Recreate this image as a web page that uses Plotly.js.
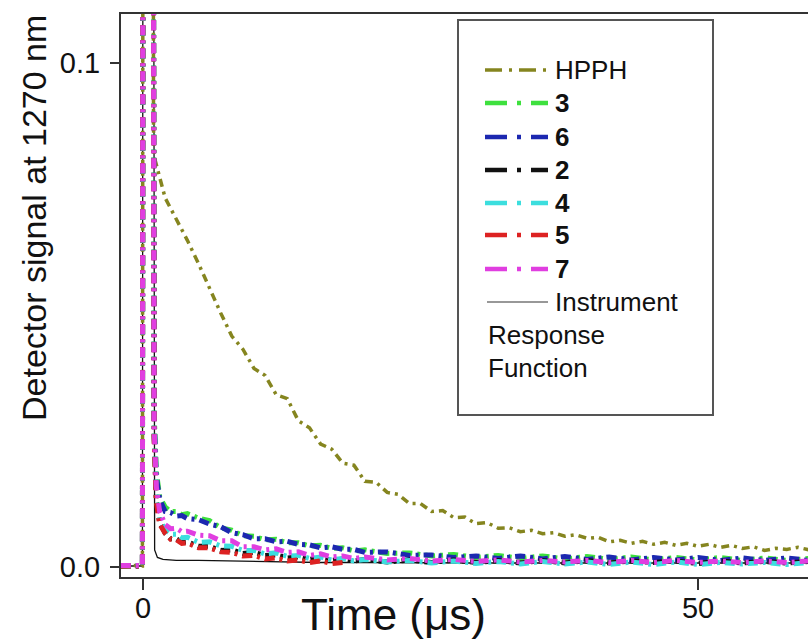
<!DOCTYPE html>
<html>
<head>
<meta charset="utf-8">
<script src="https://cdn.plot.ly/plotly-3.0.1.min.js"></script>
<style>html,body{margin:0;padding:0;background:#fff;}#chart{width:808px;height:642px;}</style>
</head>
<body>
<div id="chart"></div>
<script>
// ---- data ----
const timeSamples = [-2,-1.5,-1,-0.5,-0.05,0.05,0.4,0.85,1.0,1.2,1.5,2,2.5,3,3.5,4,5,6,7,8,9,10,11,12,13,14,15,16,17,18,19,20,22,24,26,28,30,32,34,36,38,40,42,44,46,48,50,52,54,56,58,60];
const timeHPPH = [-2,-1,-0.05,0.05,0.4,0.85,0.95,1,2,3,4,5,6,7,8,9,10,11,12,13,14,15,16,17,18,19,20,21,22,23,24,25,26,27,28,29,30,31,32,33,34,35,36,37,38,39,40,41,42,43,44,45,46,47,48,49,50,51,52,53,54,55,56,57,58,59,60];
const timeIRF = [-2,-0.05,0.05,0.85,1.05,1.3,1.8,2.5,3,5,8,12,16,20,25,30,40,50,60];

const sigHPPH = [0.0002,0.0003,0.0002,0.3,0.3,0.3,0.087,
  0.0815,0.0732,0.0690,0.0648,0.0602,0.0552,0.0504,0.0458,0.0432,0.0394,
  0.0380,0.0342,0.0334,0.0290,0.0276,0.0244,0.0234,0.0206,0.0202,0.0170,
  0.0168,0.0148,0.0144,0.0126,0.0126,0.0110,0.0112,0.0098,0.0099,0.0086,
  0.0088,0.0077,0.0078,0.0070,0.0073,0.0066,0.0068,0.0061,0.0064,0.0057,
  0.0059,0.0050,0.0053,0.0047,0.0051,0.0045,0.0049,0.0043,0.0047,0.0041,
  0.0045,0.0039,0.0043,0.0037,0.0040,0.0033,0.0037,0.0035,0.0039,0.0034];
const sig3 = [0.0002,0.0003,0.0002,0.0003,0.0002, 0.3,0.3,0.3, 0.031,0.019,0.014,
  0.0119,0.0110,0.0110,0.0104,0.0106,
  0.0097,0.0092,0.0078,0.0073,0.0062,0.0061,0.0054,0.0055,0.0048,0.0048,0.0042,0.0043,0.0037,0.0038,0.0032,0.0034,
  0.0027,0.0028,0.0022,0.0025,0.0019,0.0023,0.0017,0.0022,0.0016,0.0021,0.0015,0.0020,0.0014,0.0019,0.0014,0.0019,0.0013,0.0018,0.0013,0.0017];
const sig6 = [0.0003,0.0002,0.0003,0.0002,0.0003, 0.3,0.3,0.3, 0.030,0.018,0.0135,
  0.0110,0.0108,0.0101,0.0102,0.0096,
  0.0094,0.0085,0.0080,0.0068,0.0064,0.0056,0.0056,0.0050,0.0051,0.0045,0.0044,0.0038,0.0040,0.0035,0.0035,0.0029,
  0.0030,0.0023,0.0024,0.0019,0.0022,0.0017,0.0022,0.0016,0.0021,0.0015,0.0020,0.0014,0.0019,0.0014,0.0019,0.0013,0.0018,0.0013,0.0018,0.0013];
const sig2 = [0.0002,0.0002,0.0003,0.0002,0.0002, 0.3,0.3,0.3, 0.026,0.013,0.009,
  0.0067,0.0056,0.0056,0.0049,0.0050,
  0.0041,0.0041,0.0033,0.0034,0.0027,0.0029,0.0023,0.0024,0.0018,0.0020,0.0015,0.0018,0.0013,0.0016,0.0012,0.0015,
  0.0010,0.0014,0.0009,0.0014,0.0009,0.0013,0.0008,0.0013,0.0008,0.0013,0.0008,0.0012,0.0009,0.0012,0.0007,0.0012,0.0008,0.0011,0.0008,0.0011];
const sig4 = [0.0003,0.0002,0.0002,0.0003,0.0002, 0.3,0.3,0.3, 0.027,0.015,0.0095,
  0.0074,0.0065,0.0065,0.0058,0.0059,
  0.0049,0.0050,0.0042,0.0041,0.0033,0.0033,0.0026,0.0028,0.0021,0.0023,0.0017,0.0020,0.0014,0.0017,0.0012,0.0015,
  0.0010,0.0013,0.0008,0.0012,0.0007,0.0011,0.0006,0.0011,0.0006,0.0010,0.0005,0.0010,0.0005,0.0010,0.0005,0.0009,0.0006,0.0009,0.0005,0.0009];
const sig5 = [0.0002,0.0003,0.0002,0.0002,0.0003, 0.3,0.3,0.3, 0.026,0.013,0.0085,
  0.0067,0.0055,0.0054,0.0047,0.0048,
  0.0038,0.0038,0.0030,0.0029,0.0022,0.0023,0.0016,0.0018,0.0012,0.0014,0.0009,0.0012,0.0007,0.0009];
const sig7 = [0.0003,0.0003,0.0002,0.0003,0.0003, 0.3,0.3,0.3, 0.028,0.016,0.011,
  0.0084,0.0076,0.0077,0.0070,0.0071,
  0.0063,0.0062,0.0052,0.0052,0.0040,0.0040,0.0034,0.0036,0.0029,0.0030,0.0023,0.0026,0.0020,0.0022,0.0017,0.0020,
  0.0014,0.0017,0.0012,0.0015,0.0011,0.0014,0.0010,0.0013,0.0010,0.0013,0.0009,0.0013,0.0009,0.0013,0.0009,0.0012,0.0009,0.0012,0.0009,0.0012];
const sigIRF = [0.0002,0.0002,0.3,0.3,0.0034,0.0019,0.0015,0.0014,0.0013,0.0013,0.0012,0.0010,0.0009,0.0009,0.0008,0.0008,0.0008,0.0008,0.0008];

const seriesNames = ['HPPH','3','6','2','4','5','7'];
const seriesColors = ['#85851f','#3ee03e','#1c28b0','#111111','#3cdede','#dd2222','#e03ee0'];
const xTickVals = [0, 50];
const xTickText = ['0', '50'];
const yTickVals = [0, 0.1];
const yTickText = ['0.0', '0.1'];

// ---- traces ----
const dashData = '10px,5px,3px,5px';
const sampleSig = [sig3, sig6, sig2, sig4, sig5, sig7];
const traces = [];
traces.push({x: timeIRF, y: sigIRF, mode: 'lines', line: {color: '#111', width: 1.3}, name: 'Instrument Response Function', showlegend: false});
traces.push({x: timeHPPH, y: sigHPPH, mode: 'lines', line: {color: seriesColors[0], width: 3.5, dash: '8px,5px,3px,5px'}, name: 'HPPH', showlegend: false});
sampleSig.forEach((s, i) => {
  traces.push({x: timeSamples.slice(0, s.length), y: s, mode: 'lines',
    line: {color: seriesColors[i + 1], width: 5, dash: dashData}, name: seriesNames[i + 1], showlegend: false});
});

// ---- pixel helpers for legend decoration ----
const L = 121, R = 808, T = 14, B = 577;
const px = x => (x - L) / (R - L);
const py = y => (B - y) / (B - T);
const font = 'Arial, "Liberation Sans", sans-serif';

const shapes = [{type: 'rect', xref: 'paper', yref: 'paper', x0: px(458), x1: px(713), y0: py(415), y1: py(20),
  line: {color: '#555', width: 2}, fillcolor: 'rgba(0,0,0,0)'}];
const annotations = [];
const rowY = [70, 103, 137, 170, 203, 235, 269];
seriesNames.forEach((n, i) => {
  shapes.push({type: 'line', xref: 'paper', yref: 'paper', x0: px(485), x1: px(548), y0: py(rowY[i]), y1: py(rowY[i]),
    line: {color: seriesColors[i], width: i === 0 ? 3.5 : 4.5, dash: i === 0 ? '17px,7px,3px,7px' : '22px,10px,4px,10px'}});
  annotations.push({xref: 'paper', yref: 'paper', x: px(553), y: py(rowY[i]), xanchor: 'left', yanchor: 'middle', showarrow: false,
    text: i === 0 ? n : '<b>' + n + '</b>', font: {family: font, size: 26, color: '#111'}});
});
shapes.push({type: 'line', xref: 'paper', yref: 'paper', x0: px(487), x1: px(548), y0: py(302), y1: py(302), line: {color: '#333', width: 1.2}});
annotations.push({xref: 'paper', yref: 'paper', x: px(553), y: py(302), xanchor: 'left', yanchor: 'middle', showarrow: false,
  text: 'Instrument', font: {family: font, size: 26, color: '#111'}});
annotations.push({xref: 'paper', yref: 'paper', x: px(486), y: py(335), xanchor: 'left', yanchor: 'middle', showarrow: false,
  text: 'Response', font: {family: font, size: 26, color: '#111'}});
annotations.push({xref: 'paper', yref: 'paper', x: px(486), y: py(368), xanchor: 'left', yanchor: 'middle', showarrow: false,
  text: 'Function', font: {family: font, size: 26, color: '#111'}});
// axis titles
annotations.push({xref: 'paper', yref: 'paper', x: px(393), y: py(614), xanchor: 'center', yanchor: 'middle', showarrow: false,
  text: 'Time (μs)', font: {family: font, size: 44, color: '#111'}});
annotations.push({xref: 'paper', yref: 'paper', x: px(34), y: py(218), xanchor: 'center', yanchor: 'middle', showarrow: false,
  textangle: -90, text: 'Detector signal at 1270 nm', font: {family: font, size: 34, color: '#111'}});

const layout = {
  width: 808, height: 642,
  margin: {l: L, r: 808 - R, t: T, b: 642 - B, pad: 0},
  paper_bgcolor: '#fff', plot_bgcolor: '#fff',
  showlegend: false,
  font: {family: font, color: '#111'},
  xaxis: {range: [-1.98, 59.91], tickvals: xTickVals, ticktext: xTickText, ticks: 'outside', ticklen: 11, tickwidth: 2,
    tickcolor: '#333', showline: true, linewidth: 2, linecolor: '#333', mirror: true, showgrid: false, zeroline: false,
    tickfont: {size: 29, family: font, color: '#111'}, ticklabelstandoff: -7},
  yaxis: {range: [-0.00198, 0.1097], tickvals: yTickVals, ticktext: yTickText, ticks: 'outside', ticklen: 9, tickwidth: 2,
    tickcolor: '#333', showline: true, linewidth: 2, linecolor: '#333', mirror: false, showgrid: false, zeroline: false,
    tickfont: {size: 29, family: font, color: '#111'}, ticklabelstandoff: 4},
  shapes: shapes,
  annotations: annotations
};
Plotly.newPlot('chart', traces, layout, {staticPlot: true, displayModeBar: false});
</script>
</body>
</html>
